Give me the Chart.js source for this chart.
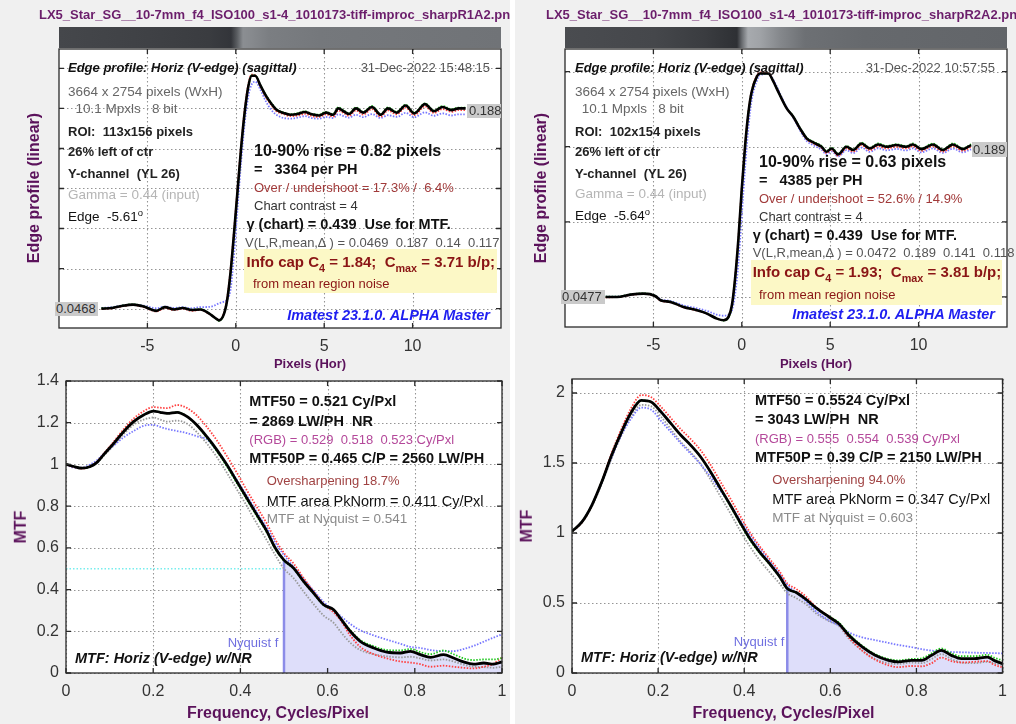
<!DOCTYPE html>
<html>
<head>
<meta charset="utf-8">
<script src="https://cdn.jsdelivr.net/npm/chart.js@4.4.1/dist/chart.umd.min.js"></script>
<style>
html, body { margin: 0; padding: 0; background: #f0f0f0; }
#wrap { position: relative; width: 1016px; height: 724px; overflow: hidden; background: #f0f0f0;
        font-family: "Liberation Sans", Arial, sans-serif; }
#wrap canvas { position: absolute; left: 0; top: 0; }
.t { position: absolute; white-space: pre; line-height: 1.15; transform: translateY(-50%); }
.c { position: absolute; white-space: pre; line-height: 1.15; transform: translate(-50%, -50%); }
.v { position: absolute; white-space: pre; line-height: 1.15; transform: translate(-50%, -50%) rotate(-90deg); }
.box { position: absolute; }
.val { position: absolute; overflow: hidden; background: #cacaca; font-size: 13px; color: #333; line-height: 14px; white-space: pre; }
.strip { position: absolute; top: 27px; height: 21px; width: 442px; }
sub { font-size: 0.72em; vertical-align: -0.45em; line-height: 0; }
sup { font-size: 0.7em; vertical-align: 0.55em; line-height: 0; }
.fn { font-weight: bold; font-size: 13px; color: #6b1d6b; overflow: hidden; }
.ti { font-weight: bold; font-style: italic; font-size: 13px; color: #111; }
.dt { font-size: 13px; color: #555; }
.g1 { font-size: 13.5px; color: #666; }
.b1 { font-weight: bold; font-size: 13px; color: #222; }
.gm { font-size: 13.5px; color: #b5b5b5; }
.n1 { font-size: 13.5px; color: #111; }
.rise { font-weight: bold; font-size: 16px; color: #111; }
.ph { font-weight: bold; font-size: 14.5px; color: #111; }
.ov { font-size: 13px; color: #a13a3a; }
.cc { font-size: 13px; color: #333; }
.gc { font-weight: bold; font-size: 14.5px; color: #111; }
.vl { font-size: 13px; color: #555; }
.ic { font-weight: bold; font-size: 15px; color: #8a1515; }
.nz { font-size: 13px; color: #8a1515; }
.im { font-weight: bold; font-style: italic; font-size: 14.5px; color: #1e1ef0; }
.m50 { font-weight: bold; font-size: 14.5px; color: #111; }
.rgb { font-size: 13px; color: #b4489a; }
.os { font-size: 13px; color: #a04343; }
.ar { font-size: 14.5px; color: #111; }
.nq { font-size: 13.5px; color: #8a8a8a; }
.nf { font-size: 13px; color: #6f6fe0; }
.mt { font-weight: bold; font-style: italic; font-size: 14.5px; color: #111; }
.ax { font-weight: bold; font-size: 16px; color: #5b125b; }
.axs { font-weight: bold; font-size: 13px; color: #5b125b; }
</style>
</head>
<body>
<div id="wrap">
  <div class="box" style="left:510px;top:0;width:5px;height:724px;background:#fff"></div>
  <div class="strip" style="left:59px;background:linear-gradient(to right,#45474b 0px,#3f4145 90px,#3a3c40 150px,#33353a 172px,#5a5d61 178px,#8b8e92 184px,#878a8e 192px,#7b7e82 210px,#75787c 260px,#707377 442px)"></div>
  <div class="strip" style="left:565px;background:linear-gradient(to right,#4a4c50 0px,#45474b 90px,#3a3c40 140px,#2e3034 172px,#6a6d71 177px,#a7aaae 183px,#a0a3a7 195px,#85888c 215px,#6d7074 240px,#66696d 300px,#626569 442px)"></div>
  <canvas id="ep1" width="1016" height="724"></canvas>
  <canvas id="ep2" width="1016" height="724"></canvas>
  <canvas id="mtf1" width="1016" height="724"></canvas>
  <canvas id="mtf2" width="1016" height="724"></canvas>
</div>
<script>
// ---- edge profile, left (sharpR1A2) ----
const epX1 = [-7.6,-7,-6.4,-5.8,-5.2,-4.5,-4,-3.5,-3,-2.5,-2,-1.5,-1.2,-0.95,-0.7,-0.5,-0.3,-0.1,0.1,0.3,0.5,0.7,0.9,1.1,1.4,1.7,2,2.3,2.7,3.1,3.5,3.9,4.3,4.7,5.1,5.5,5.8,6.1,6.4,6.8,7.2,7.7,8.2,8.6,9.1,9.6,10.1,10.7,11.2,11.7,12.2,12.6,13];
const epY1 = [0.0468,0.0472,0.0488,0.0496,0.0482,0.0452,0.0478,0.0462,0.0472,0.0458,0.0462,0.0432,0.0405,0.0385,0.0420,0.0520,0.0720,0.1000,0.1300,0.1600,0.1850,0.2030,0.2110,0.2110,0.2040,0.1970,0.1915,0.1870,0.1848,0.1835,0.1840,0.1855,0.1838,0.1830,0.1850,0.1835,0.1880,0.1860,0.1840,0.1880,0.1850,0.1890,0.1835,0.1880,0.1850,0.1900,0.1845,0.1910,0.1860,0.1890,0.1868,0.1880,0.1880];
const epR1 = [0.0465,0.0470,0.0485,0.0494,0.0478,0.0448,0.0472,0.0458,0.0468,0.0452,0.0458,0.0430,0.0405,0.0388,0.0425,0.0530,0.0740,0.1020,0.1320,0.1620,0.1870,0.2045,0.2118,0.2112,0.2035,0.1960,0.1905,0.1860,0.1840,0.1825,0.1830,0.1842,0.1826,0.1820,0.1838,0.1822,0.1865,0.1848,0.1828,0.1866,0.1836,0.1875,0.1822,0.1866,0.1838,0.1886,0.1832,0.1895,0.1848,0.1876,0.1856,0.1868,0.1868];
const epG1 = [0.0470,0.0474,0.0490,0.0498,0.0484,0.0454,0.0480,0.0464,0.0474,0.0460,0.0464,0.0434,0.0404,0.0382,0.0418,0.0515,0.0712,0.0990,0.1292,0.1595,0.1848,0.2030,0.2112,0.2112,0.2042,0.1974,0.1920,0.1876,0.1852,0.1840,0.1846,0.1860,0.1842,0.1836,0.1856,0.1840,0.1887,0.1866,0.1846,0.1887,0.1856,0.1897,0.1840,0.1887,0.1856,0.1906,0.1850,0.1916,0.1866,0.1897,0.1874,0.1886,0.1886];
const epB1 = [0.0472,0.0478,0.0490,0.0495,0.0488,0.0470,0.0482,0.0472,0.0478,0.0470,0.0478,0.0480,0.0490,0.0505,0.0515,0.0530,0.0600,0.0850,0.1180,0.1500,0.1770,0.1960,0.2050,0.2068,0.2010,0.1930,0.1870,0.1835,0.1812,0.1808,0.1815,0.1825,0.1812,0.1808,0.1820,0.1812,0.1838,0.1826,0.1815,0.1835,0.1818,0.1840,0.1812,0.1832,0.1820,0.1848,0.1818,0.1852,0.1828,0.1845,0.1830,0.1838,0.1838];
const epGrid1 = [0.0468,0.0750,0.1033,0.1315,0.1597,0.1880,0.2162];

// ---- edge profile, right (sharpR2A2) ----
const epX2 = [-7.7,-7.05,-6.3,-5.55,-4.9,-4.6,-4.04,-3.3,-2.54,-1.97,-1.41,-1.03,-0.75,-0.56,-0.38,-0.19,0,0.19,0.38,0.56,0.85,1.03,1.5,1.79,1.97,2.54,2.91,3.29,3.67,4.04,4.51,4.79,5.08,5.45,5.92,6.3,6.77,7.24,7.71,8.18,8.74,9.3,9.68,10.15,10.81,11.37,11.94,12.5,12.97];
const epY2 = [0.0477,0.0477,0.0499,0.0508,0.0486,0.0446,0.0430,0.0383,0.0351,0.0320,0.0273,0.0257,0.0289,0.0399,0.0650,0.1027,0.1497,0.1906,0.2220,0.2408,0.2550,0.2580,0.2580,0.2502,0.2440,0.2251,0.2173,0.2063,0.1969,0.1931,0.1890,0.1843,0.1874,0.1818,0.1890,0.1859,0.1921,0.1874,0.1912,0.1890,0.1906,0.1890,0.1912,0.1868,0.1912,0.1859,0.1912,0.1868,0.1906];
const epR2 = [0.0474,0.0475,0.0496,0.0505,0.0482,0.0442,0.0426,0.0380,0.0348,0.0318,0.0272,0.0258,0.0292,0.0405,0.0660,0.1040,0.1510,0.1918,0.2230,0.2418,0.2560,0.2590,0.2585,0.2505,0.2442,0.2252,0.2170,0.2058,0.1962,0.1922,0.1880,0.1832,0.1862,0.1806,0.1876,0.1845,0.1905,0.1858,0.1896,0.1874,0.1890,0.1874,0.1896,0.1852,0.1896,0.1844,0.1896,0.1852,0.1890];
const epG2 = [0.0479,0.0479,0.0501,0.0510,0.0488,0.0448,0.0432,0.0385,0.0353,0.0321,0.0272,0.0254,0.0284,0.0392,0.0640,0.1015,0.1487,0.1898,0.2215,0.2405,0.2548,0.2578,0.2578,0.2503,0.2442,0.2254,0.2178,0.2068,0.1975,0.1938,0.1898,0.1850,0.1882,0.1825,0.1898,0.1866,0.1930,0.1882,0.1921,0.1898,0.1914,0.1898,0.1921,0.1875,0.1921,0.1866,0.1921,0.1875,0.1914];
const epB2 = [0.0480,0.0480,0.0498,0.0506,0.0490,0.0455,0.0440,0.0398,0.0370,0.0345,0.0310,0.0300,0.0310,0.0350,0.0500,0.0800,0.1250,0.1700,0.2080,0.2330,0.2510,0.2565,0.2575,0.2520,0.2460,0.2260,0.2165,0.2045,0.1945,0.1905,0.1862,0.1820,0.1846,0.1800,0.1858,0.1830,0.1882,0.1842,0.1876,0.1856,0.1870,0.1856,0.1875,0.1838,0.1875,0.1832,0.1872,0.1838,0.1866];
const epGrid2 = [0.0477,0.1184,0.1891,0.2598];

const epXTicks = [-5, 0, 5, 10];

// ---- MTF, left ----
const mtfF1 = [0,0.018,0.037,0.056,0.071,0.086,0.109,0.132,0.155,0.178,0.201,0.216,0.232,0.255,0.278,0.3,0.323,0.346,0.369,0.392,0.415,0.438,0.461,0.48,0.5,0.522,0.545,0.568,0.591,0.614,0.629,0.652,0.675,0.706,0.736,0.767,0.79,0.813,0.836,0.866,0.889,0.912,0.935,0.958,0.981,1.0];
const mtfY1 = [1.001,0.99,0.982,0.99,1.01,1.046,1.10,1.157,1.205,1.237,1.256,1.25,1.245,1.25,1.229,1.189,1.133,1.07,0.998,0.918,0.838,0.758,0.678,0.599,0.541,0.503,0.439,0.383,0.327,0.303,0.263,0.2,0.152,0.12,0.10,0.096,0.104,0.088,0.075,0.088,0.072,0.053,0.043,0.048,0.043,0.053];
const mtfR1 = [1.0,0.988,0.98,0.99,1.012,1.05,1.108,1.168,1.22,1.255,1.275,1.272,1.27,1.285,1.27,1.235,1.18,1.115,1.04,0.96,0.875,0.795,0.715,0.64,0.575,0.525,0.455,0.39,0.33,0.29,0.255,0.18,0.125,0.09,0.07,0.055,0.05,0.042,0.03,0.035,0.03,0.025,0.022,0.03,0.045,0.075];
const mtfG1 = [1.0,0.99,0.982,0.99,1.01,1.046,1.10,1.157,1.205,1.237,1.256,1.25,1.245,1.25,1.229,1.187,1.128,1.063,0.99,0.91,0.83,0.75,0.672,0.594,0.538,0.5,0.436,0.38,0.325,0.302,0.265,0.205,0.158,0.128,0.11,0.108,0.115,0.1,0.09,0.108,0.09,0.07,0.062,0.065,0.065,0.072];
const mtfB1 = [1.0,0.985,0.985,1.0,1.02,1.05,1.09,1.13,1.16,1.185,1.19,1.18,1.17,1.16,1.15,1.135,1.12,1.065,1.0,0.925,0.85,0.77,0.695,0.625,0.565,0.51,0.45,0.395,0.34,0.3,0.275,0.235,0.205,0.18,0.16,0.14,0.125,0.12,0.11,0.105,0.105,0.115,0.13,0.15,0.17,0.185];
const mtfK1 = [1.0,0.99,0.982,0.99,1.008,1.04,1.09,1.145,1.19,1.215,1.225,1.215,1.205,1.21,1.195,1.155,1.1,1.035,0.96,0.88,0.8,0.715,0.635,0.565,0.5,0.455,0.39,0.33,0.275,0.24,0.2,0.145,0.11,0.09,0.08,0.075,0.078,0.07,0.06,0.065,0.055,0.04,0.03,0.028,0.025,0.03];
const nyqMtf1 = 0.541;
const mtfYTicks1 = [0, 0.2, 0.4, 0.6, 0.8, 1, 1.2, 1.4];

// ---- MTF, right ----
const mtfF2 = [0,0.023,0.046,0.069,0.092,0.115,0.138,0.161,0.184,0.207,0.23,0.253,0.276,0.299,0.322,0.345,0.368,0.39,0.413,0.436,0.459,0.482,0.5,0.521,0.544,0.567,0.597,0.62,0.643,0.674,0.704,0.735,0.758,0.789,0.812,0.835,0.858,0.881,0.904,0.934,0.965,0.98,1.0];
const mtfY2 = [1.012,1.079,1.198,1.364,1.555,1.721,1.864,1.948,1.936,1.864,1.781,1.698,1.626,1.543,1.436,1.317,1.198,1.079,0.96,0.864,0.781,0.69,0.603,0.575,0.525,0.465,0.40,0.352,0.269,0.186,0.126,0.09,0.079,0.09,0.09,0.126,0.162,0.126,0.102,0.102,0.114,0.09,0.067];
const mtfR2 = [1.01,1.075,1.195,1.37,1.57,1.745,1.895,1.985,1.97,1.9,1.82,1.74,1.67,1.59,1.485,1.365,1.245,1.125,1.005,0.905,0.815,0.725,0.64,0.6,0.545,0.47,0.405,0.35,0.255,0.16,0.095,0.055,0.042,0.05,0.048,0.07,0.11,0.085,0.075,0.08,0.085,0.06,0.04];
const mtfG2 = [1.012,1.079,1.198,1.364,1.555,1.721,1.864,1.948,1.936,1.864,1.781,1.698,1.626,1.543,1.436,1.313,1.19,1.07,0.95,0.855,0.775,0.685,0.6,0.574,0.522,0.462,0.405,0.36,0.28,0.195,0.135,0.1,0.09,0.1,0.105,0.14,0.175,0.14,0.12,0.12,0.13,0.11,0.09];
const mtfB2 = [1.01,1.08,1.2,1.36,1.54,1.7,1.82,1.895,1.88,1.8,1.72,1.64,1.565,1.49,1.4,1.3,1.2,1.095,0.99,0.89,0.8,0.71,0.63,0.575,0.51,0.44,0.375,0.34,0.29,0.255,0.235,0.215,0.2,0.185,0.17,0.16,0.155,0.15,0.148,0.145,0.143,0.142,0.14];
const mtfK2 = [1.01,1.075,1.19,1.35,1.535,1.7,1.835,1.915,1.905,1.83,1.74,1.65,1.575,1.49,1.38,1.26,1.14,1.02,0.905,0.805,0.72,0.64,0.57,0.535,0.49,0.425,0.37,0.335,0.245,0.16,0.1,0.07,0.065,0.075,0.07,0.1,0.135,0.1,0.075,0.07,0.08,0.07,0.055];
const nyqMtf2 = 0.603;
const mtfYTicks2 = [0, 0.5, 1, 1.5, 2];

const mtfXTicks = [0, 0.2, 0.4, 0.6, 0.8, 1];
const NYQ = 0.5;

Chart.defaults.font.family = '"Liberation Sans", Arial, sans-serif';

const GRID = '#959595';
const TICK_FONT = {size: 16};

function pts(xs, ys) {
  return xs.map((x, i) => ({x: x, y: ys[i]}));
}

// white plot background and dotted grid, drawn under the curves
const plotBack = {
  id: 'plotBack',
  beforeDatasetsDraw(chart) {
    const ctx = chart.ctx;
    const a = chart.chartArea;
    const sx = chart.scales.x;
    const sy = chart.scales.y;
    ctx.save();
    ctx.fillStyle = '#ffffff';
    ctx.fillRect(a.left, a.top, a.right - a.left, a.bottom - a.top);
    ctx.strokeStyle = GRID;
    ctx.lineWidth = 1.1;
    ctx.setLineDash([1.5, 2.5]);
    for (const t of sx.ticks) {
      const px = Math.round(sx.getPixelForValue(t.value)) + 0.5;
      ctx.beginPath(); ctx.moveTo(px, a.top); ctx.lineTo(px, a.bottom); ctx.stroke();
    }
    for (const t of sy.ticks) {
      const py = Math.round(sy.getPixelForValue(t.value)) + 0.5;
      ctx.beginPath(); ctx.moveTo(a.left, py); ctx.lineTo(a.right, py); ctx.stroke();
    }
    ctx.restore();
  }
};

// black box and MATLAB-style inner tick marks
const frame = {
  id: 'frame',
  afterDraw(chart) {
    const {ctx, chartArea: a, scales} = chart;
    ctx.save();
    ctx.strokeStyle = '#2a2a2a';
    ctx.lineWidth = 1.3;
    ctx.strokeRect(a.left, a.top, a.width, a.height);
    ctx.beginPath();
    scales.x.ticks.forEach(t => {
      const px = scales.x.getPixelForValue(t.value);
      ctx.moveTo(px, a.bottom); ctx.lineTo(px, a.bottom - 5);
      ctx.moveTo(px, a.top); ctx.lineTo(px, a.top + 5);
    });
    scales.y.ticks.forEach(t => {
      const py = scales.y.getPixelForValue(t.value);
      ctx.moveTo(a.left, py); ctx.lineTo(a.left + 5, py);
      ctx.moveTo(a.right, py); ctx.lineTo(a.right - 5, py);
    });
    ctx.stroke();
    ctx.restore();
  }
};

function dotted(data, color, order) {
  return {data: data, borderColor: color, borderWidth: 1.8, borderDash: [1.5, 1.5], order: order};
}

function makeChart(id, area, xr, yr, xTicks, yTicks, showY, datasets) {
  const yw = showY ? 40 : 0;
  return new Chart(document.getElementById(id), {
    type: 'line',
    data: {datasets: datasets},
    options: {
      responsive: false,
      animation: false,
      events: [],
      layout: {padding: {left: area.l - yw, top: area.t, right: 1016 - area.r, bottom: 724 - area.b - 30}},
      plugins: {legend: {display: false}, tooltip: {enabled: false}},
      elements: {point: {radius: 0}, line: {cubicInterpolationMode: 'monotone'}},
      scales: {
        x: {
          type: 'linear', min: xr[0], max: xr[1],
          afterBuildTicks: s => { s.ticks = xTicks.map(v => ({value: v})); },
          afterFit: s => { s.height = 30; },
          grid: {display: false, drawTicks: false},
          border: {display: false},
          ticks: {font: TICK_FONT, color: '#333', padding: 9, maxRotation: 0, autoSkip: false,
                  callback: v => String(v)}
        },
        y: {
          type: 'linear', min: yr[0], max: yr[1],
          afterBuildTicks: s => { s.ticks = yTicks.map(v => ({value: v})); },
          afterFit: s => { s.width = yw; },
          grid: {display: false, drawTicks: false},
          border: {display: false},
          ticks: {display: showY, font: TICK_FONT, color: '#333', padding: 7, autoSkip: false,
                  callback: v => String(v)}
        }
      }
    },
    plugins: [plotBack, frame]
  });
}

// edge profiles
makeChart('ep1', {l: 59, t: 49, r: 501, b: 328}, [-10, 15], [0.0331, 0.2299], epXTicks, epGrid1, false, [
  {data: pts(epX1, epY1), borderColor: '#000', borderWidth: 2.6, order: 0},
  dotted(pts(epX1, epG1), '#22c022', 1),
  dotted(pts(epX1, epR1), '#ff4040', 2),
  dotted(pts(epX1, epB1), '#7878ff', 3)
]);
makeChart('ep2', {l: 565, t: 49, r: 1007, b: 327}, [-10, 15], [0.0194, 0.281], epXTicks, epGrid2, false, [
  {data: pts(epX2, epY2), borderColor: '#000', borderWidth: 2.6, order: 0},
  dotted(pts(epX2, epG2), '#22c022', 1),
  dotted(pts(epX2, epR2), '#ff4040', 2),
  dotted(pts(epX2, epB2), '#7878ff', 3)
]);

function mtfSets(f, y, r, g, b, k, nyq, mtf50line) {
  const sets = [
    {data: pts(f, y), borderColor: '#000', borderWidth: 2.8, order: 0},
    dotted(pts(f, g), '#1ec81e', 1),
    dotted(pts(f, r), '#ff4040', 2),
    dotted(pts(f, b), '#7878ff', 3),
    dotted(pts(f, k), '#9a9a9a', 4),
    {data: [{x: NYQ, y: 0}, {x: NYQ, y: nyq}], borderColor: '#8c8ce8', borderWidth: 2.5,
     tension: 0, cubicInterpolationMode: 'default', order: 5},
    {data: pts(f, y).filter(p => p.x >= NYQ), borderWidth: 0, borderColor: 'rgba(0,0,0,0)',
     fill: 'origin', backgroundColor: '#dedefa', order: 9}
  ];
  if (mtf50line) {
    sets.push({data: [{x: 0, y: 0.5}, {x: NYQ, y: 0.5}], borderColor: '#78eeee', borderWidth: 1.5,
               borderDash: [1.5, 2], tension: 0, cubicInterpolationMode: 'default', order: 6});
  }
  return sets;
}

makeChart('mtf1', {l: 66, t: 381, r: 502, b: 673}, [0, 1], [0, 1.4], mtfXTicks, mtfYTicks1, true,
  mtfSets(mtfF1, mtfY1, mtfR1, mtfG1, mtfB1, mtfK1, nyqMtf1, true));
makeChart('mtf2', {l: 572, t: 379, r: 1007, b: 673}, [0, 1], [0, 2.1], mtfXTicks, mtfYTicks2, true,
  mtfSets(mtfF2, mtfY2, mtfR2, mtfG2, mtfB2, mtfK2, nyqMtf2, false));

// ---- text overlays ----
const wrap = document.getElementById('wrap');
function el(cls, html, css) {
  const d = document.createElement('div');
  d.className = cls;
  d.innerHTML = html;
  d.style.cssText = css;
  wrap.appendChild(d);
  return d;
}
function note(x, y, html, cls, right) {
  const pos = right ? 'right:' + (1016 - x) + 'px;' : 'left:' + x + 'px;';
  return el('t ' + cls, html, pos + 'top:' + y + 'px;');
}

// yellow info boxes first so text sits on top
el('box', '', 'left:244px;top:249px;width:253px;height:44px;background:#fcf8c6;');
el('box', '', 'left:751px;top:260px;width:251px;height:45px;background:#fcf8c6;');

el('t fn', 'LX5_Star_SG__10-7mm_f4_ISO100_s1-4_1010173-tiff-improc_sharpR1A2.png', 'left:39px;top:15px;width:471px;');
el('t fn', 'LX5_Star_SG__10-7mm_f4_ISO100_s1-4_1010173-tiff-improc_sharpR2A2.png', 'left:546px;top:15px;width:470px;');

const edgeNotes = [
  [68, 67.7, 'Edge profile: Horiz (V-edge) (sagittal)', 'ti'],
  [490, 67.7, '31-Dec-2022 15:48:15', 'dt', true],
  [68, 91.7, '3664 x 2754 pixels (WxH)', 'g1'],
  [75.5, 109, '10.1 Mpxls   8 bit', 'g1'],
  [68, 132.3, 'ROI:  113x156 pixels', 'b1'],
  [68, 152.3, '26% left of ctr', 'b1'],
  [68, 174.3, 'Y-channel  (YL 26)', 'b1'],
  [68, 195, 'Gamma = 0.44 (input)', 'gm'],
  [68, 216.7, 'Edge  -5.61<sup>o</sup>', 'n1'],
  [254, 151, '10-90% rise = 0.82 pixels', 'rise'],
  [254, 169, '=   3364 per PH', 'ph'],
  [254, 187.7, 'Over / undershoot = 17.3% /  6.4%', 'ov'],
  [254, 206, 'Chart contrast = 4', 'cc'],
  [246.5, 224, '\u03b3 (chart) = 0.439  Use for MTF.', 'gc'],
  [245, 243.3, 'V(L,R,mean,\u2206 ) = 0.0469  0.187  0.14  0.117', 'vl'],
  [246.5, 261.7, 'Info cap C<sub>4</sub> = 1.84;  C<sub>max</sub> = 3.71 b/p;', 'ic'],
  [253, 284.3, 'from mean region noise', 'nz'],
  [490, 315, 'Imatest 23.1.0. ALPHA Master', 'im', true],

  [575, 67.7, 'Edge profile: Horiz (V-edge) (sagittal)', 'ti'],
  [995, 67.7, '31-Dec-2022 10:57:55', 'dt', true],
  [575, 91.7, '3664 x 2754 pixels (WxH)', 'g1'],
  [581.7, 109, '10.1 Mpxls   8 bit', 'g1'],
  [575, 131.7, 'ROI:  102x154 pixels', 'b1'],
  [575, 152.3, '26% left of ctr', 'b1'],
  [575, 174.3, 'Y-channel  (YL 26)', 'b1'],
  [575, 194, 'Gamma = 0.44 (input)', 'gm'],
  [575, 216, 'Edge  -5.64<sup>o</sup>', 'n1'],
  [759, 161.7, '10-90% rise = 0.63 pixels', 'rise'],
  [759, 180, '=   4385 per PH', 'ph'],
  [759, 199, 'Over / undershoot = 52.6% / 14.9%', 'ov'],
  [759, 216.7, 'Chart contrast = 4', 'cc'],
  [752.7, 235, '\u03b3 (chart) = 0.439  Use for MTF.', 'gc'],
  [752.7, 253.3, 'V(L,R,mean,\u2206 ) = 0.0472  0.189  0.141  0.118', 'vl'],
  [752.7, 272.3, 'Info cap C<sub>4</sub> = 1.93;  C<sub>max</sub> = 3.81 b/p;', 'ic'],
  [759, 295, 'from mean region noise', 'nz'],
  [995, 314.3, 'Imatest 23.1.0. ALPHA Master', 'im', true]
];

const mtfNotes = [
  [249.3, 401, 'MTF50 = 0.521 Cy/Pxl', 'm50'],
  [249.3, 420.7, '= 2869 LW/PH  NR', 'm50'],
  [249.3, 440, '(RGB) = 0.529  0.518  0.523 Cy/Pxl', 'rgb'],
  [249.3, 457.7, 'MTF50P = 0.465 C/P = 2560 LW/PH', 'm50'],
  [266.7, 481, 'Oversharpening 18.7%', 'os'],
  [266.7, 500.7, 'MTF area PkNorm = 0.411 Cy/Pxl', 'ar'],
  [266.7, 519, 'MTF at Nyquist = 0.541', 'nq'],
  [278.3, 643.3, 'Nyquist f', 'nf', true],
  [75, 658.3, 'MTF: Horiz (V-edge) w/NR', 'mt'],

  [755, 400, 'MTF50 = 0.5524 Cy/Pxl', 'm50'],
  [755, 419.3, '= 3043 LW/PH  NR', 'm50'],
  [755, 439, '(RGB) = 0.555  0.554  0.539 Cy/Pxl', 'rgb'],
  [755, 457.3, 'MTF50P = 0.39 C/P = 2150 LW/PH', 'm50'],
  [772.3, 480, 'Oversharpening 94.0%', 'os'],
  [772.3, 499, 'MTF area PkNorm = 0.347 Cy/Pxl', 'ar'],
  [772.3, 517.7, 'MTF at Nyquist = 0.603', 'nq'],
  [784.3, 642.3, 'Nyquist f', 'nf', true],
  [581, 656.7, 'MTF: Horiz (V-edge) w/NR', 'mt']
];

edgeNotes.concat(mtfNotes).forEach(n => note(n[0], n[1], n[2], n[3], n[4]));

// level markers on the edge profiles
el('val', '0.188', 'left:467px;top:104px;width:34px;height:14px;padding-left:2px;box-sizing:border-box;');
el('val', '0.0468', 'left:55px;top:302px;width:43px;height:14px;padding-left:1px;box-sizing:border-box;');
el('val', '0.189', 'left:972px;top:142px;width:35px;height:15px;padding-left:1px;box-sizing:border-box;line-height:15px;');
el('val', '0.0477', 'left:561px;top:290px;width:44px;height:14px;padding-left:1px;box-sizing:border-box;');

// axis titles
el('v ax', 'Edge profile (linear)', 'left:34px;top:188px;');
el('v ax', 'Edge profile (linear)', 'left:540.5px;top:188px;');
el('c axs', 'Pixels (Hor)', 'left:310px;top:364px;');
el('c axs', 'Pixels (Hor)', 'left:816px;top:364px;');
el('v ax', 'MTF', 'left:21px;top:526.7px;');
el('v ax', 'MTF', 'left:527px;top:526px;');
el('c ax', 'Frequency, Cycles/Pixel', 'left:278px;top:713px;');
el('c ax', 'Frequency, Cycles/Pixel', 'left:783.5px;top:713px;');
</script>
</body>
</html>
